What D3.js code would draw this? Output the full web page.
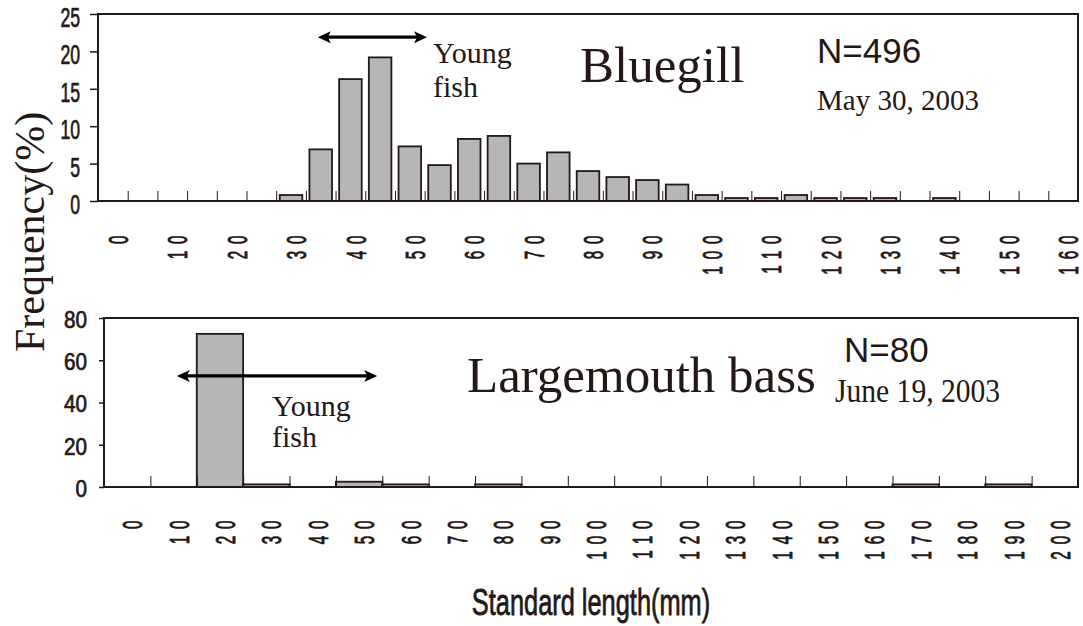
<!DOCTYPE html>
<html><head><meta charset="utf-8">
<script src="https://cdn.jsdelivr.net/npm/d3@7"></script>
<style>body{margin:0;background:#fff;} svg{display:block;}</style>
</head><body><svg id="c" width="1083" height="626"></svg>
<script>
// ---------- DATA ----------
const bluegillBins = [0,5,10,15,20,25,30,35,40,45,50,55,60,65,70,75,80,85,90,95,100,105,110,115,120,125,130,135,140,145,150,155,160];
const bluegillFreq = [0,0,0,0,0,0,0.8,6.9,16.3,19.2,7.3,4.8,8.3,8.7,5.0,6.5,4.0,3.2,2.8,2.2,0.8,0.4,0.4,0.8,0.4,0.4,0.4,0,0.4,0,0,0,0];
const bluegillTickLabels = ["0","10","20","30","40","50","60","70","80","90","100","110","120","130","140","150","160"];
const bluegillYTicks = [0,5,10,15,20,25];

const bassBins = [0,10,20,30,40,50,60,70,80,90,100,110,120,130,140,150,160,170,180,190,200];
const bassFreq = [0,0,72.5,1.25,0,2.5,1.25,0,1.25,0,0,0,0,0,0,0,0,1.25,0,1.25,0];
const bassTickLabels = ["0","10","20","30","40","50","60","70","80","90","100","110","120","130","140","150","160","170","180","190","200"];
const bassYTicks = [0,20,40,60,80];

const INK = "#231815";
const BAR = "#b5b6b5";
const SERIF = "'Liberation Serif', 'Times New Roman', serif";
const SANS = "'Liberation Sans', Arial, sans-serif";
const svg = d3.select("#c");

function panel(o) {
  const g = svg.append("g");
  const x = d3.scaleBand().domain(o.bins).range([o.x0, o.x1])
    .paddingInner(o.pad).paddingOuter(o.pad / 2);
  const y = d3.scaleLinear().domain([0, o.ymax]).range([o.y1, o.y0]);
  const binW = o.bins[1] - o.bins[0];
  const mm = d3.scaleLinear().domain([o.bins[0], o.bins[o.bins.length - 1] + binW]).range([o.x0, o.x1]);

  // bars
  g.selectAll("rect.bar").data(o.bins.map((b, i) => ({b, v: o.vals[i]})).filter(d => d.v > 0))
    .join("rect").attr("class", "bar")
    .attr("x", d => x(d.b)).attr("width", x.bandwidth())
    .attr("y", d => y(d.v)).attr("height", d => o.y1 - y(d.v))
    .attr("fill", BAR).attr("stroke", INK).attr("stroke-width", 1.8);

  // inner tick marks at bin boundaries
  const tk = g.append("g").attr("transform", `translate(0,${o.y1})`)
    .call(d3.axisTop(mm).tickValues(o.bins.slice(1)).tickSize(o.innerTick).tickFormat(""));
  tk.select(".domain").remove();
  tk.selectAll("line").attr("stroke", INK).attr("stroke-width", 1);

  // frame
  g.append("rect").attr("x", o.x0).attr("y", o.y0).attr("width", o.x1 - o.x0).attr("height", o.y1 - o.y0)
    .attr("fill", "none").attr("stroke", INK).attr("stroke-width", 2);

  // y axis
  const ya = g.append("g").attr("transform", `translate(${o.x0},0)`)
    .call(d3.axisLeft(y).tickValues(o.yTicks).tickSize(o.yTick));
  ya.select(".domain").remove();
  ya.selectAll("line").attr("stroke", INK).attr("stroke-width", 1.5);
  ya.selectAll("text").attr("x", 0).attr("dy", null)
    .attr("transform", `translate(${o.ylabX - o.x0},${o.ylabDy}) scale(${o.ySx},1)`)
    .attr("dominant-baseline", "central")
    .attr("text-anchor", "end").attr("fill", INK)
    .attr("stroke", INK).attr("stroke-width", 0.7)
    .style("font-family", SANS).style("font-size", o.yFs + "px");

  // x tick labels (rotated, condensed)
  const labBins = o.labels.map(s => +s);
  const xa = g.append("g").attr("transform", `translate(${x.bandwidth() / 2 + 5},${o.labTop})`)
    .call(d3.axisBottom(x).tickValues(labBins).tickSize(0).tickFormat((d, i) => o.labels[i]));
  xa.select(".domain").remove();
  xa.selectAll(".tick").attr("transform", d => `translate(${x(d)},0)`);
  xa.selectAll("text").attr("x", 0).attr("y", 0).attr("dy", "0.36em")
    .attr("transform", `rotate(-90) scale(0.54,1)`)
    .attr("text-anchor", "end").attr("fill", INK)
    .attr("stroke", INK).attr("stroke-width", 0.9)
    .style("letter-spacing", "13px")
    .style("font-family", SANS).style("font-size", "28px");

  return {x, y, mm, g};
}

function arrow(g, xa, xb, yy) {
  const h = 13, w = 6;
  g.append("line").attr("x1", xa + 4).attr("x2", xb - 4).attr("y1", yy).attr("y2", yy)
    .attr("stroke", "#000").attr("stroke-width", 3.2);
  g.append("path").attr("d", `M${xa},${yy} L${xa + h},${yy - w} L${xa + h - 3},${yy} L${xa + h},${yy + w} Z`).attr("fill", "#000");
  g.append("path").attr("d", `M${xb},${yy} L${xb - h},${yy - w} L${xb - h + 3},${yy} L${xb - h},${yy + w} Z`).attr("fill", "#000");
}

function txt(x, y, s, fam, fs, sy) {
  return svg.append("text")
    .attr("transform", `translate(${x},${y}) scale(1,${sy || 1})`).text(s)
    .attr("fill", INK)
    .style("font-family", fam).style("font-size", fs + "px");
}

// ---------- TOP: Bluegill ----------
const P1 = panel({bins: bluegillBins, vals: bluegillFreq, labels: bluegillTickLabels, yTicks: bluegillYTicks,
  ymax: 25, x0: 98, x1: 1078, y0: 14, y1: 201, pad: 0.24, innerTick: 10, yTick: 8,
  ylabX: 80, ylabDy: 3, ySx: 0.63, yFs: 28, labTop: 228.5});
arrow(P1.g, P1.mm(37), P1.mm(55.4), P1.y(21.9));
txt(433, 63, "Young", SERIF, 30);
txt(433, 97, "fish", SERIF, 30);
txt(580, 82, "Bluegill", SERIF, 51);
txt(817, 63, "N=496", SANS, 35);
txt(817, 110, "May 30, 2003", SERIF, 29);

// ---------- BOTTOM: Largemouth bass ----------
const P2 = panel({bins: bassBins, vals: bassFreq, labels: bassTickLabels, yTicks: bassYTicks,
  ymax: 80, x0: 104, x1: 1078, y0: 318, y1: 487, pad: 0, innerTick: 11, yTick: 5,
  ylabX: 87, ylabDy: 1.5, ySx: 0.9, yFs: 23, labTop: 513.5});
arrow(P2.g, P2.mm(15.7), P2.mm(58.9), P2.y(52.6));
txt(272, 416, "Young", SERIF, 30);
txt(272, 447, "fish", SERIF, 30);
txt(467, 392, "Largemouth bass", SERIF, 51);
txt(844, 362, "N=80", SANS, 35);
txt(835, 402, "June 19, 2003", SERIF, 29.6, 1.12);

// ---------- axis titles ----------
svg.append("text").attr("transform", "translate(44,232) rotate(-90)")
  .attr("text-anchor", "middle").attr("fill", INK)
  .style("font-family", SERIF).style("font-size", "42px").text("Frequency(%)");
svg.append("text").attr("transform", "translate(591,615) scale(0.686,1)")
  .attr("text-anchor", "middle").attr("fill", INK)
  .attr("stroke", INK).attr("stroke-width", 0.8)
  .style("font-family", SANS).style("font-size", "37px").text("Standard length(mm)");
</script></body></html>
